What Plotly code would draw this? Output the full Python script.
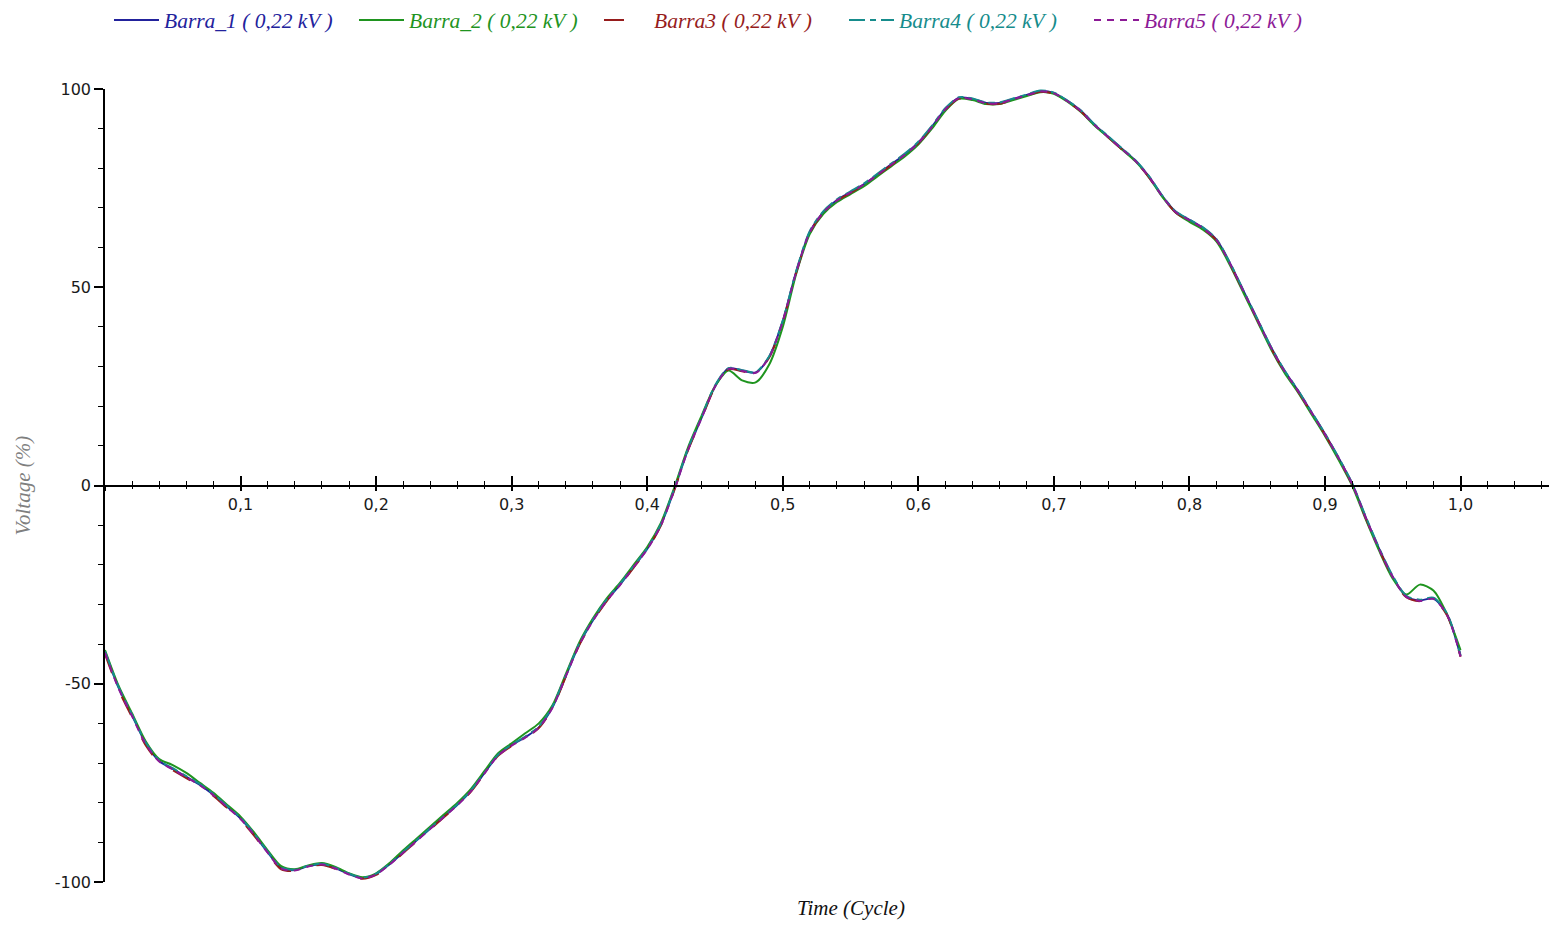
import plotly.graph_objects as go

# Time in cycles (step 0.01)
t = [round(i * 0.01, 2) for i in range(101)]

barra_1 = [-42, -51, -58, -65, -69.5, -71.5, -73.5, -75.5, -78, -81,
           -84, -88, -92.5, -96.5, -97, -96, -95.5, -96.5, -98, -99,
           -98, -95.5, -92.5, -89.5, -86.5, -83.5, -80.5, -77, -72.5, -68,
           -65.5, -63.5, -61, -56, -48, -40, -34, -29, -25, -20.5,
           -16, -10, -1, 9, 17, 25, 29.5, 29, 28.5, 32.5,
           41.5, 54, 64, 69, 72, 74, 76, 78.5, 81, 83.5,
           86.5, 90.5, 95, 97.8, 97.5, 96.5, 96.5, 97.5, 98.5, 99.5,
           99, 97, 94.5, 91, 88, 85, 82, 78, 73, 69,
           67, 65, 62, 56, 49, 42, 35, 29, 24, 18.5,
           13, 7, 0.5, -8, -16, -23, -28, -29, -28.5, -32.5,
           -43]

barra_2 = [-41.5, -50.5, -57.5, -64.5, -69, -70.5, -72.5, -75, -77.5, -80.5,
           -83.5, -87.5, -92, -96, -96.8, -95.8, -95.2, -96.2, -97.8, -98.8,
           -97.8, -95.2, -92, -89, -86, -83, -80, -76.5, -72, -67.5,
           -65, -62.5, -60, -55.5, -47.5, -39.5, -33.5, -28.5, -24.5, -20,
           -15.5, -9.5, -0.5, 9.5, 17.5, 25, 29, 26.5, 26, 30.5,
           40, 53.5, 63.5, 68.5, 71.5, 73.5, 75.5, 78, 80.5, 83,
           86, 90, 94.5, 97.5, 97.2, 96.2, 96.2, 97.2, 98.2, 99.2,
           98.8, 96.8, 94.2, 90.8, 87.8, 84.8, 81.8, 77.8, 72.8, 68.8,
           66.5, 64.5, 61.5, 55.5, 48.5, 41.5, 34.5, 28.5, 23.5, 18,
           12.5, 6.5, 0, -8.5, -16.5, -23.5, -27.5, -25, -26.5, -32.5,
           -41.5]

barra3 = [-42.5, -51.5, -58.5, -65.5, -69.8, -71.8, -73.8, -75.8, -78.3, -81.3,
          -84.3, -88.3, -92.8, -96.8, -97.2, -96.2, -95.7, -96.7, -98.2, -99.2,
          -98.2, -95.7, -92.7, -89.7, -86.7, -83.7, -80.7, -77.2, -72.7, -68.2,
          -65.7, -63.7, -61.2, -56.2, -48.2, -40.2, -34.2, -29.2, -25.2, -20.7,
          -16.2, -10.2, -1.2, 8.8, 16.8, 24.8, 29.3, 28.8, 28.3, 32.3,
          41.3, 53.8, 63.8, 68.8, 71.8, 73.8, 75.8, 78.3, 80.8, 83.3,
          86.3, 90.3, 94.8, 97.6, 97.3, 96.3, 96.3, 97.3, 98.3, 99.3,
          98.8, 96.8, 94.3, 90.8, 87.8, 84.8, 81.8, 77.8, 72.8, 68.8,
          66.8, 64.8, 61.8, 55.8, 48.8, 41.8, 34.8, 28.8, 23.8, 18.3,
          12.8, 6.8, 0.3, -8.2, -16.2, -23.2, -28.2, -29.2, -28.7, -32.7,
          -43.2]

barra4 = [-41.8, -50.8, -57.8, -64.8, -69.3, -71.3, -73.3, -75.3, -77.8, -80.8,
          -83.8, -87.8, -92.3, -96.3, -96.9, -95.9, -95.4, -96.4, -97.9, -98.9,
          -97.9, -95.4, -92.4, -89.4, -86.4, -83.4, -80.4, -76.9, -72.4, -67.9,
          -65.4, -63.3, -60.8, -55.8, -47.8, -39.8, -33.8, -28.8, -24.8, -20.3,
          -15.8, -9.8, -0.8, 9.2, 17.2, 25.2, 29.6, 29.1, 28.6, 32.6,
          41.6, 54.2, 64.2, 69.2, 72.2, 74.2, 76.2, 78.7, 81.2, 83.7,
          86.7, 90.7, 95.2, 97.9, 97.6, 96.6, 96.6, 97.6, 98.6, 99.6,
          99.1, 97.1, 94.6, 91.1, 88.1, 85.1, 82.1, 78.1, 73.1, 69.1,
          67.1, 65.1, 62.1, 56.1, 49.1, 42.1, 35.1, 29.1, 24.1, 18.6,
          13.1, 7.1, 0.6, -7.8, -15.8, -22.8, -27.8, -28.8, -28.3, -32.3,
          -42.8]

barra5 = [-42.2, -51.2, -58.2, -65.2, -69.6, -71.6, -73.6, -75.6, -78.1, -81.1,
          -84.1, -88.1, -92.6, -96.6, -97.1, -96.1, -95.6, -96.6, -98.1, -99.1,
          -98.1, -95.6, -92.6, -89.6, -86.6, -83.6, -80.6, -77.1, -72.6, -68.1,
          -65.6, -63.6, -61.1, -56.1, -48.1, -40.1, -34.1, -29.1, -25.1, -20.6,
          -16.1, -10.1, -1.1, 8.9, 16.9, 24.9, 29.4, 28.9, 28.4, 32.4,
          41.4, 53.9, 63.9, 68.9, 71.9, 73.9, 75.9, 78.4, 80.9, 83.4,
          86.4, 90.4, 94.9, 97.7, 97.4, 96.4, 96.4, 97.4, 98.4, 99.4,
          98.9, 96.9, 94.4, 90.9, 87.9, 84.9, 81.9, 77.9, 72.9, 68.9,
          66.9, 64.9, 61.9, 55.9, 48.9, 41.9, 34.9, 28.9, 23.9, 18.4,
          12.9, 6.9, 0.4, -8.1, -16.1, -23.1, -28.1, -29.1, -28.6, -32.6,
          -43.1]

series_names = ["Barra_1 ( 0,22 kV )", "Barra_2 ( 0,22 kV )", "Barra3 ( 0,22 kV )",
                "Barra4 ( 0,22 kV )", "Barra5 ( 0,22 kV )"]
series_values = [barra_1, barra_2, barra3, barra4, barra5]
colors = ["#22229c", "#1f941f", "#961c1c", "#168c8c", "#8c1a96"]
dashes = ["solid", "solid", "20px,26px", "16px,5px,6px,5px", "7px,6px"]

x_tickvals = [0, 0.1, 0.2, 0.3, 0.4, 0.5, 0.6, 0.7, 0.8, 0.9, 1.0]
x_ticktext = ["", "0,1", "0,2", "0,3", "0,4", "0,5", "0,6", "0,7", "0,8", "0,9", "1,0"]
y_tickvals = [-100, -50, 0, 50, 100]
y_ticktext = ["-100", "-50", "0", "50", "100"]

fig = go.Figure()
for name, vals, col, dash in zip(series_names, series_values, colors, dashes):
    fig.add_trace(go.Scatter(
        x=t, y=vals, mode="lines",
        name=f"<span style='color:{col}'>{name}</span>",
        line=dict(color=col, width=2, dash=dash, shape="spline", smoothing=0.8),
    ))

# helper trace to make the upper-tick overlay axis render
fig.add_trace(go.Scatter(x=[0], y=[0], xaxis="x2", mode="markers",
                         marker=dict(opacity=0, size=1), showlegend=False,
                         hoverinfo="skip"))

tick_font = dict(family="DejaVu Sans", size=16, color="#1a1a1a")
serif_it = dict(family="Liberation Serif", size=21, style="italic")

# page body has an 8px default margin, so the figure is sized to fit the window
fig.update_layout(
    width=1549, height=918,
    plot_bgcolor="white", paper_bgcolor="white",
    margin=dict(l=97, r=7, t=81, b=44, autoexpand=False),
    showlegend=True,
    legend=dict(orientation="h", xref="container", yref="container",
                x=0.0652, y=0.987, xanchor="left", yanchor="middle",
                entrywidth=185, entrywidthmode="pixels", itemwidth=45,
                font=dict(family="Liberation Serif", size=21.5, style="italic"),
                bgcolor="rgba(0,0,0,0)"),
    xaxis=dict(range=[0, 1.066], anchor="free", position=0.5,
               showline=True, linecolor="black", linewidth=1.5,
               showgrid=False, zeroline=False, automargin=False,
               ticks="outside", ticklen=5, tickwidth=1.5, tickcolor="black",
               tickvals=x_tickvals, ticktext=x_ticktext, tickfont=tick_font,
               minor=dict(tickmode="linear", tick0=0, dtick=0.02,
                          ticks="outside", ticklen=3, tickwidth=1.2,
                          tickcolor="black")),
    xaxis2=dict(range=[0, 1.066], overlaying="x", anchor="free", position=0.5,
                showline=False, showgrid=False, zeroline=False,
                ticks="inside", ticklen=10, tickwidth=1.5, tickcolor="black",
                tickvals=x_tickvals, showticklabels=False,
                minor=dict(tickmode="linear", tick0=0, dtick=0.02,
                           ticks="inside", ticklen=5, tickwidth=1.2,
                           tickcolor="black")),
    yaxis=dict(range=[-100, 100], showline=True, linecolor="black", linewidth=1.5,
               showgrid=False, zeroline=False, automargin=False,
               ticks="outside", ticklen=9, tickwidth=1.5, tickcolor="black",
               tickvals=y_tickvals, ticktext=y_ticktext, tickfont=tick_font,
               minor=dict(tickmode="linear", tick0=0, dtick=10,
                          ticks="outside", ticklen=5, tickwidth=1.2,
                          tickcolor="black")),
    annotations=[
        dict(text="Voltage (%)", textangle=-90, xref="paper", yref="paper",
             x=0, y=0.5, xshift=-83, xanchor="center", yanchor="middle",
             showarrow=False, font=dict(color="#7f7f7f", **serif_it)),
        dict(text="Time (Cycle)", xref="x", yref="paper",
             x=0.55, y=0, yshift=-26, xanchor="center", yanchor="middle",
             showarrow=False, font=dict(color="#111111", **serif_it)),
    ],
)

fig.write_html("out.html")
